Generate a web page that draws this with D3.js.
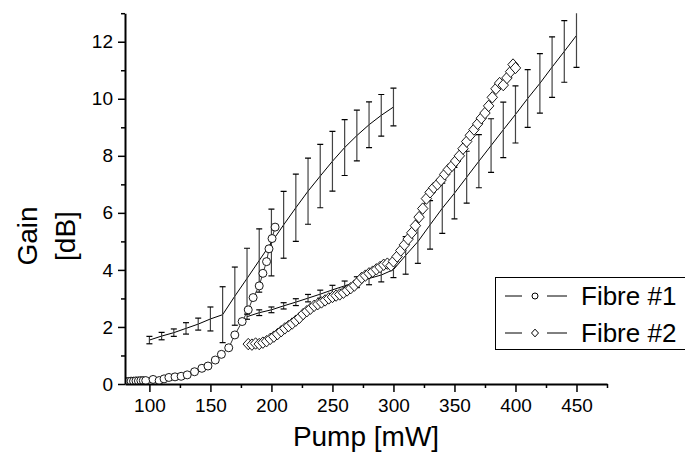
<!DOCTYPE html>
<html>
<head>
<meta charset="utf-8">
<script src="https://cdn.jsdelivr.net/npm/d3@7"></script>
<style>
  html, body { margin: 0; padding: 0; background: #fff; }
  svg { display: block; font-family: "Liberation Sans", Arial, sans-serif; }
</style>
</head>
<body>
<div id="gain-chart"></div>
<script>
/* ----------------------- Data ----------------------- */
// Fibre #1 measured (open circles)
const fibre1Pump = [81, 83, 85, 87, 89, 91, 93, 95, 97, 103, 108, 112, 116, 121, 126, 131, 137, 143, 148, 154, 159, 165, 170, 176, 181, 185, 190, 193, 196, 198, 200.5, 203];
const fibre1Gain = [0.08, 0.09, 0.1, 0.1, 0.11, 0.11, 0.12, 0.12, 0.12, 0.16, 0.12, 0.18, 0.23, 0.25, 0.27, 0.32, 0.43, 0.55, 0.63, 0.84, 1.04, 1.27, 1.72, 2.19, 2.6, 3.03, 3.44, 3.88, 4.29, 4.74, 5.1, 5.5];

// Fibre #2 measured (open diamonds)
const fibre2Pump = [181, 184, 187, 190, 193, 196, 199, 202, 205, 208, 211, 214, 217, 220, 223, 226, 229, 232, 235, 238, 241, 244, 247, 250, 253, 256, 259, 262, 265, 268, 271, 274, 277, 280, 283, 286, 289, 292, 295, 298, 300, 303, 306, 309, 312, 315, 318, 321, 324, 327, 330, 333, 336, 339, 342, 345, 348, 351, 354, 357, 360, 363, 366, 369, 372, 375, 378, 381, 384, 387, 390, 393, 396, 398, 400];
const fibre2Gain = [1.4, 1.38, 1.42, 1.4, 1.45, 1.5, 1.58, 1.66, 1.75, 1.85, 1.95, 2.03, 2.12, 2.22, 2.32, 2.45, 2.55, 2.64, 2.74, 2.8, 2.86, 2.93, 3.0, 3.05, 3.1, 3.14, 3.2, 3.28, 3.36, 3.45, 3.58, 3.72, 3.8, 3.88, 3.94, 4.02, 4.1, 4.18, 4.22, 4.15, 4.3, 4.47, 4.68, 4.88, 5.08, 5.3, 5.55, 5.85, 6.15, 6.5, 6.72, 6.88, 7.0, 7.15, 7.35, 7.52, 7.65, 7.82, 8.0, 8.25, 8.5, 8.72, 8.92, 9.12, 9.32, 9.5, 9.75, 10.05, 10.35, 10.55, 10.48, 10.73, 10.95, 11.2, 11.08];

// Simulated curves with error bars
const sim1Pump = [100, 110, 120, 130, 140, 150, 160, 170, 180, 190, 200, 210, 220, 230, 240, 250, 260, 270, 280, 290, 300];
const sim1Gain = [1.54, 1.68, 1.8, 1.95, 2.1, 2.28, 2.43, 3.08, 3.7, 4.33, 4.96, 5.58, 6.18, 6.76, 7.29, 7.81, 8.29, 8.71, 9.09, 9.42, 9.71];
const sim1Err = [0.13, 0.13, 0.13, 0.2, 0.21, 0.42, 0.98, 1.02, 1.06, 1.11, 1.17, 1.17, 1.18, 1.16, 1.11, 1.05, 0.98, 0.89, 0.8, 0.73, 0.66];

const sim2Pump = [180, 190, 200, 210, 220, 230, 240, 250, 260, 270, 280, 290, 300, 310, 320, 330, 340, 350, 360, 370, 380, 390, 400, 410, 420, 430, 440, 450];
const sim2Gain = [2.36, 2.5, 2.6, 2.74, 2.87, 3.01, 3.15, 3.3, 3.44, 3.57, 3.7, 3.82, 4.01, 4.51, 4.99, 5.58, 6.16, 6.69, 7.25, 7.81, 8.36, 8.91, 9.45, 10.01, 10.54, 11.11, 11.66, 12.22];
const sim2Err = [0.09, 0.1, 0.1, 0.11, 0.12, 0.13, 0.14, 0.16, 0.17, 0.19, 0.22, 0.24, 0.28, 0.66, 0.76, 0.85, 0.88, 0.9, 0.91, 0.93, 0.94, 0.97, 1.0, 1.01, 1.04, 1.06, 1.08, 1.12];

// Axis ticks
const xMajorTicks = [100, 150, 200, 250, 300, 350, 400, 450];
const xMinorTicks = [125, 175, 225, 275, 325, 375, 425, 475];
const yMajorTicks = [0, 2, 4, 6, 8, 10, 12];
const yMinorTicks = [1, 3, 5, 7, 9, 11, 13];

const legendLabels = ["Fibre #1", "Fibre #2"];

(function () {
  const width = 685;
  const height = 459;

  const svg = d3
    .select("#gain-chart")
    .append("svg")
    .attr("width", width)
    .attr("height", height);

  /* ----------------------- Scales ----------------------- */
  const x = d3.scaleLinear().domain([80, 475]).range([125, 607]);
  const y = d3.scaleLinear().domain([0, 13]).range([384, 13.2]);

  svg
    .append("defs")
    .append("clipPath")
    .attr("id", "plot-clip")
    .append("rect")
    .attr("x", 125)
    .attr("y", y(13))
    .attr("width", 482)
    .attr("height", y(0) - y(13));

  const plot = svg.append("g").attr("clip-path", "url(#plot-clip)");

  /* ----------------------- Simulated lines + error bars ----------------------- */
  function drawSim(pumps, gains, errs) {
    const pts = pumps.map((p, i) => ({ p: p, g: gains[i], e: errs[i] }));
    const line = d3
      .line()
      .x((d) => x(d.p))
      .y((d) => y(d.g));

    plot
      .append("path")
      .datum(pts)
      .attr("d", line)
      .attr("fill", "none")
      .attr("stroke", "#000")
      .attr("stroke-width", 1);

    const bars = plot.append("g").selectAll("g").data(pts).enter().append("g");
    bars
      .append("line")
      .attr("x1", (d) => x(d.p))
      .attr("x2", (d) => x(d.p))
      .attr("y1", (d) => y(d.g - d.e))
      .attr("y2", (d) => y(d.g + d.e))
      .attr("stroke", "#444")
      .attr("stroke-width", 1.2);
    [-1, 1].forEach((s) => {
      bars
        .append("line")
        .attr("x1", (d) => x(d.p) - 3)
        .attr("x2", (d) => x(d.p) + 3)
        .attr("y1", (d) => y(d.g + s * d.e))
        .attr("y2", (d) => y(d.g + s * d.e))
        .attr("stroke", "#000")
        .attr("stroke-width", 1.2);
    });
  }

  drawSim(sim1Pump, sim1Gain, sim1Err);
  drawSim(sim2Pump, sim2Gain, sim2Err);

  /* ----------------------- Measured series ----------------------- */
  const diamondPath = (s) => `M0,${-s * 1.1}L${s},0L0,${s * 1.1}L${-s},0Z`;

  function drawMeasured(pumps, gains, shape) {
    const pts = pumps.map((p, i) => ({ p: p, g: gains[i] }));
    plot
      .append("path")
      .datum(pts)
      .attr(
        "d",
        d3
          .line()
          .x((d) => x(d.p))
          .y((d) => y(d.g))
      )
      .attr("fill", "none")
      .attr("stroke", "#000")
      .attr("stroke-width", 0.8);

    const marks = plot
      .append("g")
      .selectAll(".mark")
      .data(pts)
      .enter();

    if (shape === "circle") {
      marks
        .append("circle")
        .attr("cx", (d) => x(d.p))
        .attr("cy", (d) => y(d.g))
        .attr("r", 4)
        .attr("fill", "#fff")
        .attr("stroke", "#000")
        .attr("stroke-width", 0.9);
    } else {
      marks
        .append("path")
        .attr("d", diamondPath(5.2))
        .attr("transform", (d) => `translate(${x(d.p)},${y(d.g)})`)
        .attr("fill", "#fff")
        .attr("stroke", "#000")
        .attr("stroke-width", 0.9);
    }
  }

  drawMeasured(fibre1Pump, fibre1Gain, "circle");
  drawMeasured(fibre2Pump, fibre2Gain, "diamond");

  /* ----------------------- Axes ----------------------- */
  const xAxisG = svg
    .append("g")
    .attr("transform", `translate(0,${y(0)})`)
    .call(
      d3.axisBottom(x).tickValues(xMajorTicks).tickSize(8).tickSizeOuter(0).tickPadding(7)
    );
  svg
    .append("g")
    .attr("transform", `translate(0,${y(0)})`)
    .call(d3.axisBottom(x).tickValues(xMinorTicks).tickSize(4).tickFormat(""))
    .select(".domain")
    .remove();

  const yAxisG = svg
    .append("g")
    .attr("transform", `translate(${x(80)},0)`)
    .call(
      d3.axisLeft(y).tickValues(yMajorTicks).tickSize(7).tickSizeOuter(0).tickPadding(5)
    );
  svg
    .append("g")
    .attr("transform", `translate(${x(80)},0)`)
    .call(d3.axisLeft(y).tickValues(yMinorTicks).tickSize(4).tickFormat(""))
    .select(".domain")
    .remove();

  svg.selectAll(".domain").attr("stroke", "#000").attr("stroke-width", 2);
  svg.selectAll(".tick line").attr("stroke", "#000").attr("stroke-width", 1.5);
  [xAxisG, yAxisG].forEach((g) =>
    g
      .selectAll(".tick text")
      .attr("fill", "#000")
      .style("font-size", "19px")
      .style("font-family", "'Liberation Sans', Arial, sans-serif")
  );

  /* ----------------------- Axis titles ----------------------- */
  svg
    .append("text")
    .attr("x", 366)
    .attr("y", 446)
    .attr("text-anchor", "middle")
    .style("font-size", "28px")
    .text("Pump [mW]");

  svg
    .append("text")
    .attr("transform", "translate(37,236) rotate(-90)")
    .attr("text-anchor", "middle")
    .style("font-size", "28px")
    .text("Gain");

  svg
    .append("text")
    .attr("transform", "translate(75,236) rotate(-90)")
    .attr("text-anchor", "middle")
    .style("font-size", "28px")
    .text("[dB]");

  /* ----------------------- Legend ----------------------- */
  const legend = svg.append("g");
  legend
    .append("rect")
    .attr("x", 495.5)
    .attr("y", 277.5)
    .attr("width", 200)
    .attr("height", 72)
    .attr("fill", "#fff")
    .attr("stroke", "#000")
    .attr("stroke-width", 1);

  const rows = legend
    .selectAll(".legend-row")
    .data(legendLabels)
    .enter()
    .append("g")
    .attr("transform", (d, i) => `translate(0,${296 + i * 37})`);

  rows
    .append("line")
    .attr("x1", 505)
    .attr("x2", 522)
    .attr("stroke", "#000")
    .attr("stroke-width", 1);
  rows
    .append("line")
    .attr("x1", 547)
    .attr("x2", 567)
    .attr("stroke", "#000")
    .attr("stroke-width", 1);

  rows
    .filter((d, i) => i === 0)
    .append("circle")
    .attr("cx", 535)
    .attr("cy", 0)
    .attr("r", 3)
    .attr("fill", "#fff")
    .attr("stroke", "#000");
  rows
    .filter((d, i) => i === 1)
    .append("path")
    .attr("d", diamondPath(3.5))
    .attr("transform", "translate(535,0)")
    .attr("fill", "#fff")
    .attr("stroke", "#000");

  rows
    .append("text")
    .attr("x", 581)
    .attr("y", 0)
    .attr("dy", "0.36em")
    .style("font-size", "26px")
    .text((d) => d);
})();
</script>
</body>
</html>
